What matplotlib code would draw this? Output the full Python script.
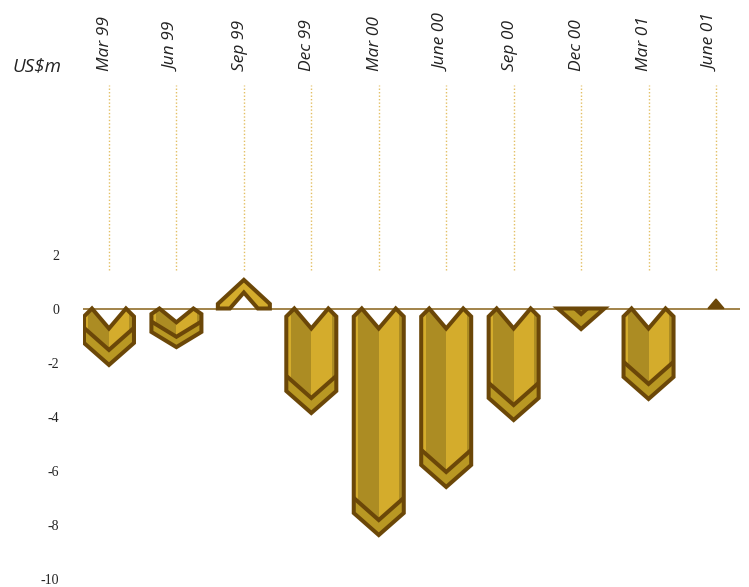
import matplotlib
matplotlib.use("Agg")
import matplotlib.pyplot as plt
from matplotlib.patches import Polygon

# ---- data ----
categories = ["Mar 99", "Jun 99", "Sep 99", "Dec 99", "Mar 00",
              "June 00", "Sep 00", "Dec 00", "Mar 01", "June 01"]
values = [-2.09, -1.43, 1.06, -3.87, -8.39, -6.61, -4.13, -0.76, -3.35, 0.35]
yticks = [2, 0, -2, -4, -6, -8, -10]
ytick_labels = ["2", "0", "-2", "-4", "-6", "-8", "-10"]
unit_label = "US$m"

# ---- colours ----
OUTLINE = "#6b4708"
LIGHT = "#d4ac2c"
DARK = "#ac8c23"
BAND = "#b99823"
ZERO = "#9a7a3c"
DOT = "#e3bf62"

W, H = 749, 587
fig = plt.figure(figsize=(W / 100, H / 100), dpi=100)
ax_l, ax_r = 83, 740
ax = fig.add_axes([ax_l / W, 0, (ax_r - ax_l) / W, 1])
xlim = (-0.385, 9.356)
ylim = (-(H - 308.5) / 27.0, 308.5 / 27.0)
ax.set_xlim(*xlim)
ax.set_ylim(*ylim)

# data units per pixel
sx = (xlim[1] - xlim[0]) / (ax_r - ax_l)
sy = (ylim[1] - ylim[0]) / H

for s in ax.spines.values():
    s.set_visible(False)
ax.set_xticks([])
ax.set_yticks(yticks)
ax.set_yticklabels(ytick_labels, family="Liberation Serif", fontsize=10)
ax.tick_params(axis="y", length=0, pad=17, colors="#222222")

ax.axhline(0, color=ZERO, lw=1.3, zorder=1)

LW = 2.9


def to_data(i, pts, sign):
    # pts in px: (dx, d) where d is depth away from zero line
    return [(i + dx * sx, sign * d * sy) for dx, d in pts]


def clip_below(pts, ymin):
    out = []
    n = len(pts)
    for k in range(n):
        cur, prev = pts[k], pts[k - 1]
        cin, pin = cur[1] >= ymin, prev[1] >= ymin
        if cin:
            if not pin:
                t = (ymin - prev[1]) / (cur[1] - prev[1])
                out.append((prev[0] + t * (cur[0] - prev[0]), ymin))
            out.append(cur)
        elif pin:
            t = (ymin - prev[1]) / (cur[1] - prev[1])
            out.append((prev[0] + t * (cur[0] - prev[0]), ymin))
    return out


def full_glyph(i, Hg, scale=1.0, shift=0.0, clip=False):
    def tr(pts):
        return [(x, y * scale + shift) for x, y in pts]
    outer = tr([(-25, 8), (-17, 0), (0, 20), (17, 0), (25, 8),
                (25, Hg - 22), (0, Hg), (-25, Hg - 22)])
    if clip:
        outer = clip_below(outer, 0)
    clip_patch = Polygon(to_data(i, outer, -1), closed=True,
                         facecolor="none", edgecolor="none")
    ax.add_patch(clip_patch)
    top = -40
    bot = Hg + 10
    layers = [
        ([(-26, top), (0, top), (0, bot), (-26, bot)], DARK),
        ([(-26, top), (-20.5, top), (-20.5, bot), (-26, bot)], LIGHT),
        ([(0, top), (26, top), (26, bot), (0, bot)], LIGHT),
        ([(20.5, top), (26, top), (26, bot), (20.5, bot)], DARK),
        ([(-26, Hg - 38), (0, Hg - 15), (26, Hg - 38), (26, bot), (-26, bot)], BAND),
    ]
    for pts, col in layers:
        p = Polygon(to_data(i, tr(pts), -1), closed=True, facecolor=col,
                    edgecolor="none", zorder=3)
        ax.add_patch(p)
        p.set_clip_path(clip_patch)
    inner = tr([(-26, Hg - 38), (0, Hg - 15), (26, Hg - 38)])
    line = ax.plot(*zip(*to_data(i, inner, -1)), color=OUTLINE, lw=LW,
                   solid_joinstyle="miter", zorder=4)[0]
    line.set_clip_path(clip_patch)
    ax.add_patch(Polygon(to_data(i, outer, -1), closed=True, facecolor="none",
                         edgecolor=OUTLINE, lw=LW, joinstyle="miter", zorder=5))


for i, v in enumerate(values):
    Hpx = abs(v) / sy
    if v < 0:
        if Hpx >= 56:
            full_glyph(i, Hpx)
        elif Hpx >= 32:
            full_glyph(i, 56, scale=Hpx / 56)
        else:
            full_glyph(i, 56, shift=Hpx - 56, clip=True)
    else:
        if Hpx > 20:
            pts = [(-26, 0), (-26, max(Hpx - 24, 0)), (0, Hpx), (26, max(Hpx - 24, 0)),
                   (26, 0), (14, 0), (0, 16), (-14, 0)]
            ax.add_patch(Polygon(to_data(i, pts, 1), closed=True, facecolor=LIGHT,
                                 edgecolor=OUTLINE, lw=LW, joinstyle="miter", zorder=5))
        else:
            pts = [(-8, 0), (0, Hpx), (8, 0)]
            ax.add_patch(Polygon(to_data(i, pts, 1), closed=True, facecolor=OUTLINE,
                                 edgecolor=OUTLINE, lw=1.0, zorder=5))

# dotted guide lines and category labels
y_top = (308.5 - 85) / 27.0
y_bot = (308.5 - 270) / 27.0
y_lab = (308.5 - 71) / 27.0
for i, c in enumerate(categories):
    ax.plot([i, i], [y_bot, y_top], color=DOT, lw=1.0, ls=(0, (1, 1.5)), zorder=0)
    ax.text(i - 0.06, y_lab, c, rotation=90, ha="center", va="bottom",
            family=["Open Sans", "DejaVu Sans"], style="italic", fontsize=12.5,
            color="#222222")

fig.text(12 / W, 1 - 71 / H, unit_label, ha="left", va="baseline",
         family=["Open Sans", "DejaVu Sans"], style="italic", fontsize=13.5,
         color="#222222")

fig.savefig("out.png", dpi=100)
